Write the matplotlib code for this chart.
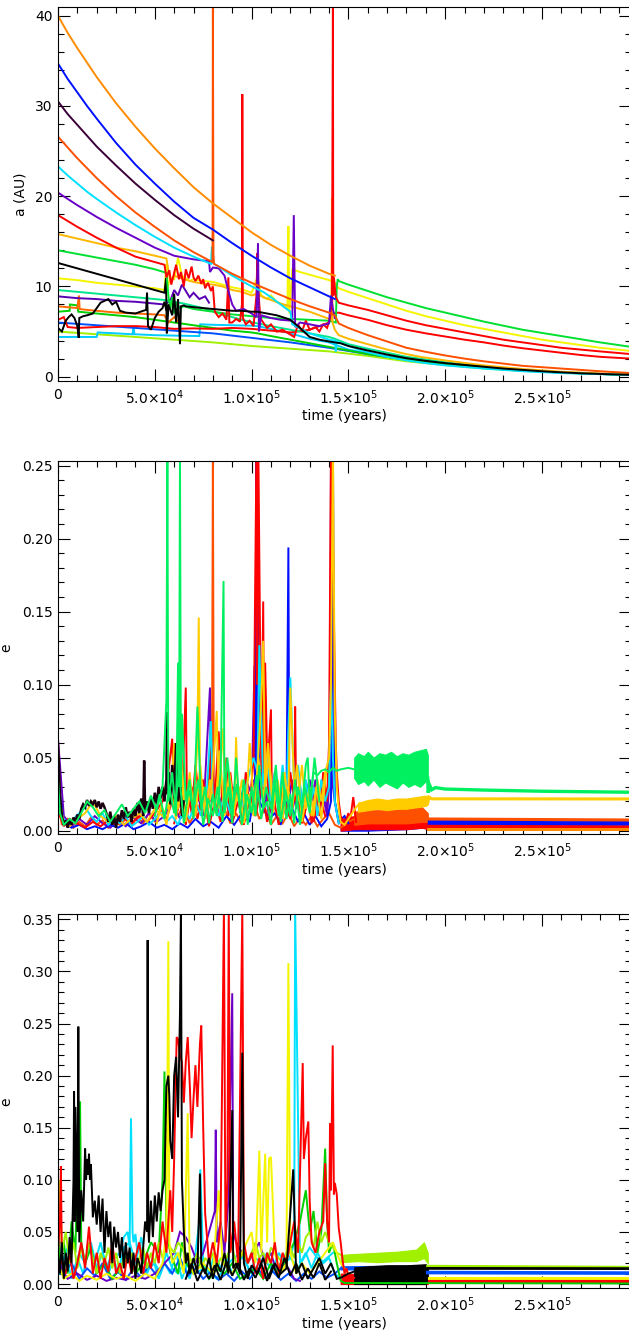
import numpy as np
import matplotlib
matplotlib.use("Agg")
import matplotlib.pyplot as plt
from matplotlib.ticker import FixedLocator, FixedFormatter, MultipleLocator, FormatStrFormatter

plt.rcParams['font.family'] = ['DejaVu Sans']
plt.rcParams['mathtext.fontset'] = 'dejavusans'

# ---------------- data (time in units of 1e4 years) ----------------
XTICKS = [0, 5e4, 1e5, 1.5e5, 2e5, 2.5e5]
XTICK_LABELS = ['0', r'$5.0{\times}10^{4}$', r'$1.0{\times}10^{5}$', r'$1.5{\times}10^{5}$',
                r'$2.0{\times}10^{5}$', r'$2.5{\times}10^{5}$']

# Panel 1: semimajor axis a (AU)
A_ORANGE = [(0,40.0),(0.5,38.1),(1,36.4),(1.5,34.8),(2,33.2),(3,30.3),(4,27.7),(5,25.3),(6,23.1),(7,21.0),(8,19.2),(9,17.6),
            (10,16.0),(11,14.6),(12,13.4),(13,12.3),(14,11.4),(14.3,11.2)]
A_BLUE = [(0,34.7),(0.5,33.0),(1,31.5),(1.5,30.0),(2,28.6),(3,25.9),(4,23.5),(5,21.4),(6,19.4),(7,17.6),(8,16.3),(9,14.8),
          (10,13.4),(11,12.1),(12,10.9),(13,9.9),(14,8.9),(14.3,8.6)]
A_DPURPLE = [(0,30.5),(0.5,29.1),(1,27.9),(1.5,26.7),(2,25.5),(3,23.4),(4,21.4),(5,19.6),(6,17.9),(7,16.4),(8.0,15.1)]
A_ORANGE2 = [(0,26.6),(0.5,25.4),(1,24.2),(1.5,23.1),(2,22.0),(3,20.0),(4,18.2),(5,16.6),(6,15.1),(7,13.8),(7.98,12.7),(8.0,41.5),
             (8.03,13.5),(8.06,12.5),(9,11.4),(10,10.4),(11,9.5),(12,8.6),(13,7.8),(14,7.1),(14.3,6.8),
             (14.5,5.9),(15,5.4),(16,4.6),(17,3.9),(18,3.2),(19,2.75),(20,2.35),(21,2.0),(22,1.7),(23,1.45),
             (24,1.2),(25,1.05),(26,0.9),(27,0.75),(28,0.6),(29.6,0.4)]
A_CYAN = [(0,23.3),(0.5,22.3),(1,21.4),(1.5,20.5),(2,19.7),(3,18.2),(4,16.8),(5,15.5),(6,14.3),(7,13.3),(7.9,12.5),(7.95,14.4),
          (8.0,12.6),(9,11.2),(10,10.0),(10.6,9.4),(11,8.8),(11.5,8.0),(12,7.2),(12.1,5.8),(13,4.8),(14,4.1),
          (14.3,4.0),(14.35,2.8),(14.4,3.9),(15,3.4),(16,2.7),(17,2.2),(18,1.8),(19,1.5),(20,1.25),(22,0.9),
          (24,0.6),(26,0.4),(28,0.28),(29.6,0.2)]
A_PURPLE = [(0,20.4),(1,19.0),(2,17.7),(3,16.5),(4,15.4),(5,14.3),(6,13.4),(7,13.0),(7.8,12.8),(7.85,11.6),
            (8.0,12.1),(8.3,12.0),(8.6,11.2),(8.8,9.5),(9.0,8.0),(9.2,7.3),(9.6,7.5),(10.0,7.0),(10.25,6.6),
            (10.33,14.8),(10.38,5.0),(10.5,6.8),(11.0,6.5),(11.5,6.3),(12.1,6.2),(12.18,17.9),(12.25,5.5),
            (12.5,6.0),(13.0,5.8),(13.5,5.6),(14.0,5.9),(14.1,9.0),(14.2,7.5),(14.3,6.5)]
A_RED = [(0,17.9),(1,16.6),(2,15.4),(3,14.3),(4,13.3),(5,12.7),(5.5,12.4),(5.6,11.0),(5.75,11.8),(5.85,10.2),
         (6.0,11.5),(6.1,12.4),(6.25,10.8),(6.35,11.6),(6.5,10.0),(6.6,11.9),(6.75,10.9),(6.9,12.2),(7.0,11.0),
         (7.1,10.6),(7.25,11.2),(7.4,10.3),(7.5,10.8),(7.6,9.8),(7.75,10.4),(7.9,9.5),(8.0,10.0),(8.1,7.2),
         (8.3,6.6),(8.5,7.0),(8.7,6.3),(8.8,11.0),(8.85,6.0),(9.0,6.0),(9.2,6.4),(9.4,6.1),(9.5,8.0),(9.52,31.3),
         (9.55,6.5),(9.7,5.8),(9.9,6.2),(10.1,5.6),(10.25,9.0),(10.3,13.7),(10.35,9.5),(10.45,6.5),(10.6,6.0),
         (10.8,5.4),(11.0,5.8),(11.3,5.0),(11.6,5.2),(11.9,4.8),(12.2,4.4),(12.4,5.8),(12.6,5.0),(12.8,6.2),
         (13.0,5.2),(13.3,5.5),(13.5,5.0),(13.7,5.8),(13.9,5.4),(14.05,6.5),(14.15,8.5),(14.2,41.5),(14.22,9.0),
         (14.25,11.0),(14.35,8.8),(14.5,8.2),(15,7.9),(16,7.4),(17,6.8),(18,6.2),(19,5.7),(20,5.3),(21,4.9),
         (22,4.5),(23,4.1),(24,3.8),(25,3.5),(26,3.2),(27,3.0),(28,2.8),(29.6,2.5)]
A_RED2 = [(0,6.3),(0.3,6.6),(0.5,5.5),(1,5.4),(2,5.5),(3,5.6),(4,5.6),(5,5.5),(5.5,5.4),(6,5.3),(7,5.35),
          (8,5.3),(9,5.4),(10,5.3),(11,5.1),(12,4.9),(13,5.2),(13.5,5.6),(14,6.0),(14.2,7.0),(14.5,7.1),
          (15,6.8),(16,6.3),(17,5.7),(18,5.2),(19,4.8),(20,4.45),(21,4.1),(22,3.8),(23,3.45),(24,3.15),
          (25,2.9),(26,2.65),(27,2.4),(28,2.2),(29.6,2.0)]
A_OYELLOW = [(0,15.8),(1,15.3),(2,14.8),(3,14.3),(4,13.9),(5,13.4),(5.6,13.1),(5.8,10.5),(6.0,11.2),(6.5,10.8),
             (7.0,10.5),(7.5,10.3),(8.0,10.2),(8.5,10.0),(9.0,9.6),(9.5,9.4),(10.0,9.0),(10.3,9.2),(10.6,8.8),
             (11.0,8.5),(11.5,8.1),(12.0,7.8),(12.5,7.5),(13.0,7.2),(13.5,6.8),(14.0,6.4),(14.12,6.3),
             (14.15,19.8),(14.18,6.0),(14.3,5.2),(14.5,4.6),(15,4.2),(16,3.6),(17,3.0),(18,2.5),(18.7,2.2),
             (20,1.8),(22,1.25),(24,0.85),(26,0.55),(28,0.35),(29.6,0.25)]
A_YELLOW = [(0,10.9),(1,10.7),(2,10.4),(3,10.2),(4,10.0),(5,9.8),(5.5,9.6),(5.6,12.5),(5.65,9.8),(5.8,11.0),
            (6.0,10.8),(6.2,13.2),(6.4,11.2),(6.6,10.9),(6.8,10.6),(7.0,10.8),(7.5,10.6),(8.0,10.5),(8.5,10.2),
            (9.0,9.9),(9.5,9.7),(10.0,9.3),(10.3,11.0),(10.5,9.0),(10.8,8.6),(11.0,9.0),(11.3,8.3),(11.6,8.0),
            (11.85,7.5),(11.9,16.7),(11.95,7.0),(12.1,11.9),(12.5,11.6),(13.0,11.3),(13.5,11.0),(14.0,10.7),
            (14.3,10.4),(14.5,9.8),(15,9.4),(16,8.7),(17,8.0),(18,7.3),(19,6.7),(20,6.2),(21,5.7),(22,5.3),
            (23,4.9),(24,4.5),(25,4.1),(26,3.8),(27,3.5),(28,3.2),(29.6,2.85)]
A_GREEN = [(0,14.0),(1,13.6),(2,13.2),(3,12.8),(4,12.4),(5,11.9),(5.6,11.5),(5.7,9.0),(5.8,7.5),(5.9,8.8),
           (6.0,7.0),(6.1,8.2),(6.3,7.6),(6.5,7.8),(7,7.5),(8,7.2),(9,6.9),(10,6.7),(11,6.5),(12,6.4),(13,6.3),
           (14,6.2),(14.35,6.0),(14.4,10.0),(14.45,10.8),(14.5,10.6),(15,10.2),(16,9.5),(17,8.8),(18,8.2),
           (19,7.6),(20,7.1),(21,6.6),(22,6.1),(23,5.65),(24,5.2),(25,4.85),(26,4.5),(27,4.15),(28,3.8),(29.6,3.3)]
A_BLACK1 = [(0,12.6),(1,12.0),(2,11.4),(3,10.8),(4,10.2),(5,9.6),(5.5,9.3),(5.58,10.9),(5.62,4.8),(5.7,7.6)]
A_BLACK2 = [(0,5.4),(0.2,5.0),(0.4,6.2),(0.55,6.6),(0.7,6.9),(0.85,6.5),(1.0,5.6),(1.07,4.3),(1.1,6.5),(1.3,6.7),
            (1.5,6.8),(1.8,7.0),(2.0,7.6),(2.2,8.2),(2.4,8.4),(2.6,8.6),(2.8,8.0),(3.0,8.3),(3.2,7.3),(3.5,7.1),
            (4.0,7.0),(4.4,7.3),(4.55,7.4),(4.6,9.3),(4.65,5.6),(4.8,5.2),(5.0,6.5),(5.2,7.2),(5.4,7.6),(5.5,8.3),
            (5.6,7.3),(5.7,8.0),(5.9,6.8),(6.0,9.2),(6.1,6.0),(6.2,8.6),(6.3,3.6),(6.35,7.8),(6.5,7.9),(6.6,7.8),
            (7,7.7),(7.5,7.6),(8,7.5),(8.5,7.4),(9,7.3),(9.5,7.3),(10,7.2),(10.3,7.2),(10.8,7.0),(11.3,6.8),
            (11.6,6.6),(12,6.3),(12.5,5.4),(13,4.4),(13.5,4.1),(14,3.9),(14.6,3.7),(15,3.4),(16,2.9),(17,2.45),
            (18,2.05),(19,1.75),(20,1.5),(21,1.3),(22,1.1),(23,0.9),(24,0.75),(25,0.6),(26,0.48),(27,0.38),
            (28,0.3),(29.6,0.2)]
A_TEAL = [(0,9.6),(2,9.2),(4,8.8),(5.5,8.5),(6.5,8.1),(7.5,7.6),(8.5,6.9),(9.5,6.3),(10.3,5.9),(11,5.6),(12,5.2),
          (13,4.8),(14,4.4),(14.3,4.2),(15,3.6),(16,3.1),(18,2.2),(20,1.6),(22,1.1),(24,0.75),(26,0.5),(28,0.3),
          (29.6,0.22)]
A_VIOLET = [(0,8.9),(1,8.7),(2,8.6),(3,8.4),(4,8.3),(5,8.1),(5.5,8.0),(5.8,8.4),(6.0,9.6),(6.2,9.0),(6.4,10.2),
            (6.6,9.5),(6.8,8.8),(7.0,9.3),(7.3,8.6),(7.6,8.9),(7.8,8.2)]
A_ORANGE3 = [(0,7.8),(0.5,7.7),(1.0,7.6),(1.08,9.0),(1.12,7.5),(1.5,7.4),(2,7.3),(3,7.1),(4,7.0),(5,6.9),
             (5.5,6.8),(5.7,6.0),(6.0,6.6),(6.3,5.9)]
A_GREEN2 = [(0,7.2),(0.6,7.3),(0.62,8.0),(1.0,7.9),(1.05,7.2),(2,7.0),(3,6.8),(4,6.6),(5,6.3),(6,6.0),(7,5.7),
            (8,5.4),(9,5.1),(10,4.9),(10.3,4.8),(11,4.5),(12,4.1),(13,3.7),(14,3.3),(15,2.9),(16,2.5),(18,1.9),
            (20,1.4),(22,1.0),(24,0.7),(26,0.45),(28,0.3),(29.6,0.2)]
A_BLUE2 = [(0,6.0),(2,5.7),(4,5.4),(6,5.1),(8,4.8),(10,4.3),(12,3.8),(14,3.2),(16,2.5),(18,1.9),(20,1.4),
           (22,1.0),(24,0.7),(26,0.45),(28,0.3),(29.6,0.2)]
A_CYAN2 = [(0,4.4),(1,4.4),(2.0,4.4),(2.05,4.9),(3,4.8),(3.85,4.7),(3.9,5.6),(3.95,4.7),(5,4.6),(6,4.55),
           (7.3,4.5),(7.35,5.8),(8,5.75),(9,5.7),(10,5.65),(10.3,5.6),(11,5.3),(12,4.8),(13,4.2),(14,3.8),
           (15,3.0),(16,2.6),(18,1.9),(20,1.35),(22,0.95),(24,0.65),(26,0.45),(28,0.3),(29.6,0.2)]
A_LGREEN = [(0,5.0),(2,4.7),(4,4.4),(6,4.1),(8,3.8),(10,3.4),(12,3.1),(14,2.8),(16,2.3),(18,1.7),(20,1.3),
            (22,0.9),(24,0.65),(26,0.45),(28,0.3),(29.6,0.2)]

# Panel 2: eccentricity (run 1)
E1_BLACK = [(0,0.058),(0.05,0.045),(0.1,0.025),(0.2,0.01),(0.3,0.004),(0.4,0.007),(0.5,0.002),(0.6,0.008),
            (0.7,0.004),(0.8,0.009),(0.9,0.006),(1.0,0.011),(1.1,0.008),(1.2,0.015),(1.3,0.018),(1.4,0.016),
            (1.5,0.021),(1.6,0.017),(1.7,0.02),(1.8,0.018),(1.9,0.021),(2.0,0.016),(2.1,0.02),(2.2,0.015),
            (2.3,0.019),(2.4,0.016),(2.5,0.012),(2.6,0.006),(2.7,0.013),(2.8,0.004),(2.9,0.01),(3.0,0.002),
            (3.1,0.011),(3.2,0.006),(3.3,0.014),(3.4,0.008),(3.5,0.016),(3.6,0.009),(3.7,0.013),(3.8,0.006),
            (3.9,0.015),(4.0,0.01),(4.1,0.019),(4.2,0.012),(4.3,0.022),(4.4,0.01),(4.45,0.048),(4.5,0.014),
            (4.6,0.02),(4.7,0.012),(4.8,0.022),(4.9,0.015),(5.0,0.026),(5.1,0.018),(5.2,0.03),(5.3,0.022),
            (5.4,0.03),(5.5,0.02),(5.6,0.035),(5.63,0.081),(5.66,0.025),(5.7,0.04),(5.8,0.018),(5.9,0.045),
            (6.0,0.022),(6.1,0.06),(6.2,0.02),(6.3,0.035),(6.4,0.01),(6.5,0.02)]
E1_ORED = [(0,0.02),(0.2,0.004),(0.5,0.008),(0.8,0.002),(1.1,0.006),(1.4,0.003),(1.7,0.009),(2.0,0.004),
           (2.3,0.007),(2.6,0.002),(2.9,0.006),(3.2,0.004),(3.5,0.008),(3.8,0.003),(4.1,0.01),(4.4,0.005),
           (4.7,0.012),(5.0,0.006),(5.3,0.015),(5.6,0.008),(5.9,0.02),(6.2,0.01),(6.5,0.018),(6.8,0.005),
           (7.1,0.012),(7.4,0.02),(7.7,0.01),(7.95,0.03),(8.0,0.26),(8.05,0.02),(8.3,0.01),(8.6,0.015),
           (8.9,0.005),(9.2,0.012),(9.5,0.004),(9.8,0.01),(10.1,0.02),(10.4,0.008),(10.7,0.015),(11.0,0.004),
           (11.3,0.01),(11.6,0.005),(11.9,0.012),(12.2,0.003),(12.5,0.009),(12.8,0.004),(13.1,0.01),
           (13.4,0.003),(13.7,0.008),(14.0,0.012),(14.3,0.004),(14.6,0.002),(15.0,0.006),(15.3,0.008)]
E1_PURPLE = [(0,0.063),(0.3,0.01),(0.7,0.003),(1.1,0.008),(1.5,0.004),(1.9,0.01),(2.3,0.005),(2.7,0.002),
             (3.1,0.007),(3.5,0.003),(3.9,0.009),(4.3,0.005),(4.7,0.012),(5.1,0.006),(5.5,0.01),(5.9,0.02),
             (6.3,0.008),(6.7,0.015),(7.1,0.03),(7.5,0.01),(7.85,0.098),(7.9,0.02),(7.95,0.035),(8.2,0.012),
             (8.5,0.025),(8.8,0.015),(9.1,0.03),(9.4,0.02),(9.7,0.035),(10.0,0.025),(10.15,0.113),(10.2,0.03),
             (10.25,0.26),(10.3,0.03),(10.4,0.02),(10.6,0.035),(10.9,0.01),(11.2,0.03),(11.5,0.02),(11.8,0.035),
             (12.1,0.015),(12.4,0.03),(12.7,0.02),(13.0,0.035),(13.3,0.015),(13.6,0.03),(13.9,0.01),(14.05,0.04),
             (14.1,0.26),(14.2,0.03),(14.3,0.02),(14.5,0.005)]
E1_PURPLE_B = [(9.5,0.01),(9.7,0.03),(9.9,0.015),(10.1,0.035),(10.3,0.02),(10.5,0.04),(10.7,0.018),(10.9,0.03),
               (11.1,0.012),(11.3,0.025),(11.5,0.01),(11.7,0.03),(11.9,0.02),(12.1,0.035),(12.3,0.015),
               (12.5,0.028),(12.7,0.01),(12.9,0.03),(13.1,0.02),(13.3,0.035),(13.5,0.012),(13.7,0.03),(13.9,0.015)]
E1_BLUE = [(0,0.035),(0.3,0.005),(0.7,0.002),(1.1,0.004),(1.5,0.001),(1.9,0.003),(2.3,0.001),(2.7,0.004),
           (3.1,0.002),(3.5,0.005),(3.9,0.001),(4.3,0.003),(4.7,0.006),(5.1,0.002),(5.5,0.004),(5.9,0.001),
           (6.3,0.005),(6.7,0.002),(7.1,0.008),(7.5,0.003),(7.9,0.006),(8.3,0.002),(8.7,0.01),(9.1,0.004),
           (9.5,0.012),(9.9,0.006),(10.2,0.03),(10.3,0.26),(10.4,0.02),(10.6,0.015),(10.9,0.008),(11.2,0.012),
           (11.5,0.004),(11.8,0.02),(11.9,0.194),(11.95,0.01),(12.1,0.015),(12.4,0.006),(12.7,0.012),
           (13.0,0.004),(13.3,0.01),(13.6,0.003),(13.9,0.008),(14.1,0.02),(14.2,0.26),(14.3,0.02),(14.5,0.006),
           (14.8,0.01),(15.0,0.005)]
E1_RED = [(0,0.03),(0.1,0.01),(0.3,0.003),(0.6,0.008),(1.0,0.005),(1.4,0.002),(1.8,0.006),(2.2,0.003),
          (2.6,0.007),(3.0,0.004),(3.4,0.008),(3.8,0.005),(4.2,0.01),(4.6,0.006),(5.0,0.012),(5.4,0.02),
          (5.7,0.04),(5.9,0.063),(6.0,0.015),(6.2,0.04),(6.4,0.02),(6.6,0.098),(6.66,0.02),(6.7,0.03),
          (6.9,0.012),(7.1,0.045),(7.3,0.02),(7.5,0.035),(7.7,0.01),(7.9,0.06),(8.1,0.02),(8.3,0.068),
          (8.5,0.015),(8.7,0.05),(8.8,0.01),(8.9,0.04),(9.1,0.015),(9.3,0.03),(9.5,0.01),(9.7,0.04),
          (9.9,0.015),(10.1,0.05),(10.25,0.26),(10.3,0.1),(10.35,0.26),(10.5,0.04),(10.6,0.157),(10.65,0.03),
          (10.7,0.115),(10.85,0.02),(10.9,0.06),(11.0,0.083),(11.05,0.02),(11.2,0.04),(11.4,0.015),
          (11.6,0.03),(11.8,0.01),(12.0,0.04),(12.2,0.02),(12.25,0.085),(12.3,0.02),(12.5,0.03),(12.7,0.01),
          (12.9,0.025),(13.1,0.005),(13.3,0.03),(13.5,0.01),(13.7,0.04),(13.9,0.02),(14.0,0.06),(14.1,0.26),
          (14.2,0.2),(14.3,0.1),(14.35,0.06),(14.4,0.04),(14.5,0.02),(14.6,0.01),(14.8,0.004),(15.0,0.012),
          (15.1,0.008),(15.25,0.023),(15.4,0.006)]
E1_RED_B = [(6.0,0.005),(6.3,0.02),(6.6,0.004),(6.9,0.03),(7.2,0.008),(7.5,0.025),(7.8,0.003),(8.1,0.02),
            (8.4,0.006),(8.7,0.03),(9.0,0.005),(9.3,0.02),(9.6,0.004),(9.9,0.025),(10.2,0.01),(10.5,0.03),
            (10.8,0.006),(11.1,0.025),(11.4,0.004),(11.7,0.02),(12.0,0.008),(12.3,0.03),(12.6,0.005),
            (12.9,0.02),(13.2,0.006),(13.5,0.025),(13.8,0.01)]
E1_CYAN = [(0,0.04),(0.2,0.01),(0.5,0.004),(0.8,0.008),(1.1,0.012),(1.4,0.016),(1.7,0.01),(2.0,0.006),
           (2.3,0.012),(2.6,0.004),(2.9,0.008),(3.2,0.005),(3.5,0.01),(3.8,0.003),(4.1,0.006),(4.4,0.01),
           (4.7,0.004),(5.0,0.008),(5.3,0.012),(5.6,0.006),(5.9,0.01),(6.2,0.004),(6.5,0.015),(6.8,0.008),
           (7.1,0.02),(7.4,0.01),(7.7,0.03),(7.9,0.075),(8.0,0.02),(8.3,0.01),(8.6,0.025),(8.9,0.012),
           (9.2,0.03),(9.5,0.015),(9.8,0.035),(10.1,0.05),(10.3,0.04),(10.4,0.127),(10.6,0.03),(10.8,0.05),
           (11.0,0.02),(11.2,0.04),(11.4,0.015),(11.6,0.045),(11.8,0.02),(11.9,0.07),(12.0,0.105),(12.2,0.03),
           (12.4,0.045),(12.6,0.02),(12.8,0.035),(13.0,0.015),(13.2,0.03),(13.4,0.01),(13.6,0.035),
           (13.8,0.02),(14.0,0.03),(14.1,0.105),(14.2,0.05),(14.3,0.02),(14.5,0.005)]
E1_GOLD = [(0,0.06),(0.1,0.02),(0.3,0.005),(0.6,0.003),(1.0,0.008),(1.4,0.012),(1.8,0.02),(2.2,0.01),
           (2.6,0.006),(3.0,0.01),(3.4,0.004),(3.8,0.008),(4.2,0.012),(4.6,0.006),(5.0,0.015),(5.4,0.01),
           (5.8,0.02),(6.0,0.06),(6.2,0.015),(6.4,0.03),(6.6,0.01),(6.8,0.04),(7.0,0.012),(7.2,0.06),
           (7.27,0.146),(7.35,0.02),(7.5,0.03),(7.7,0.012),(7.9,0.025),(8.1,0.06),(8.2,0.082),(8.3,0.015),
           (8.5,0.07),(8.7,0.02),(8.9,0.03),(9.1,0.01),(9.2,0.064),(9.3,0.02),(9.5,0.035),(9.7,0.008),
           (9.9,0.06),(10.1,0.02),(10.3,0.04),(10.5,0.09),(10.6,0.13),(10.7,0.03),(10.9,0.05),(11.1,0.02),
           (11.3,0.03),(11.5,0.01),(11.7,0.04),(11.9,0.02),(12.0,0.098),(12.2,0.03),(12.4,0.02),(12.6,0.045),
           (12.8,0.015),(13.0,0.03),(13.2,0.01),(13.4,0.035),(13.6,0.02),(13.8,0.04),(14.0,0.05),(14.1,0.1),
           (14.2,0.27),(14.3,0.08),(14.4,0.03),(14.5,0.015),(14.6,0.006),(14.8,0.004),(15.0,0.008),
           (15.2,0.012),(15.4,0.016),(15.6,0.019)]
E1_GOLD_B = [(5.1,0.005),(5.35,0.018),(5.6,0.004),(5.85,0.025),(6.1,0.008),(6.35,0.05),(6.6,0.006),(6.85,0.03),
             (7.1,0.01),(7.35,0.045),(7.6,0.008),(7.85,0.035),(8.1,0.012),(8.35,0.055),(8.6,0.01),(8.85,0.04),
             (9.1,0.015),(9.35,0.03),(9.6,0.005),(9.85,0.025),(10.1,0.01),(10.35,0.05),(10.6,0.02),(10.85,0.06),
             (11.1,0.012),(11.35,0.035),(11.6,0.008),(11.85,0.03),(12.1,0.015),(12.35,0.045),(12.6,0.006),
             (12.85,0.025),(13.1,0.01),(13.35,0.03),(13.6,0.008),(13.85,0.04)]
E1_GREEN = [(0,0.035),(0.1,0.012),(0.3,0.004),(0.6,0.008),(0.9,0.005),(1.2,0.012),(1.5,0.02),(1.8,0.016),
            (2.1,0.01),(2.4,0.014),(2.7,0.006),(3.0,0.012),(3.3,0.018),(3.6,0.01),(3.9,0.015),(4.2,0.02),
            (4.5,0.012),(4.8,0.024),(5.1,0.014),(5.4,0.03),(5.6,0.09),(5.65,0.26),(5.7,0.02),(5.9,0.04),
            (6.1,0.01),(6.2,0.115),(6.25,0.03),(6.3,0.26),(6.35,0.03),(6.4,0.08),(6.6,0.02),(6.8,0.035),
            (7.0,0.008),(7.2,0.085),(7.4,0.015),(7.6,0.03),(7.8,0.005),(8.0,0.025),(8.2,0.01),(8.4,0.04),
            (8.55,0.171),(8.6,0.012),(8.8,0.03),(9.0,0.005),(9.2,0.05),(9.4,0.012),(9.6,0.035),(9.8,0.004),
            (10.0,0.03),(10.2,0.01),(10.4,0.045),(10.6,0.015),(10.8,0.02),(11.0,0.004),(11.2,0.035),
            (11.4,0.01),(11.6,0.04),(11.8,0.008),(12.0,0.025),(12.2,0.005),(12.4,0.03),(12.6,0.015),
            (12.8,0.045),(12.9,0.05),(13.0,0.02),(13.2,0.04),(13.4,0.038),(13.6,0.041),(13.8,0.042),
            (14.0,0.04),(14.2,0.043),(14.4,0.041),(14.6,0.042),(15.0,0.043),(15.3,0.042)]
E1_GREEN_B = [(5.0,0.01),(5.25,0.025),(5.5,0.008),(5.75,0.03),(6.0,0.012),(6.25,0.04),(6.5,0.005),(6.75,0.028),
              (7.0,0.015),(7.25,0.035),(7.5,0.004),(7.75,0.022),(8.0,0.01),(8.25,0.03),(8.5,0.006),(8.75,0.05),
              (9.0,0.015),(9.25,0.032),(9.5,0.004),(9.75,0.025),(10.0,0.012),(10.25,0.038),(10.5,0.008),
              (10.75,0.03),(11.0,0.015),(11.25,0.045),(11.5,0.006),(11.75,0.028),(12.0,0.01),(12.25,0.035),
              (12.5,0.004),(12.75,0.03),(13.0,0.012),(13.25,0.05),(13.5,0.02)]
E1_GREEN_BAND = [(15.3,0.036,0.050),(15.5,0.032,0.053),(15.8,0.034,0.051),(16.0,0.031,0.054),(16.3,0.035,0.050),
                 (16.6,0.030,0.053),(16.9,0.033,0.052),(17.2,0.031,0.054),(17.5,0.029,0.051),(17.8,0.033,0.053),
                 (18.1,0.030,0.052),(18.4,0.032,0.054),(18.7,0.030,0.055),(19.0,0.034,0.056),(19.1,0.033,0.052)]
E1_GOLD_BAND = [(15.5,0.013,0.019),(16,0.014,0.021),(16.5,0.015,0.022),(17,0.014,0.021),(17.5,0.015,0.022),
                (18,0.015,0.022),(18.5,0.016,0.023),(19.0,0.017,0.024),(19.1,0.018,0.022)]
E1_ORED_BAND = [(15.3,0.004,0.013),(16,0.005,0.014),(17,0.005,0.014),(18,0.005,0.015),(18.8,0.006,0.016),
                (19.1,0.006,0.012)]
E1_RED_BAND = [(14.6,0.0,0.008),(15.3,0.001,0.01),(16,0.001,0.009),(17,0.001,0.009),(18,0.001,0.01),
               (18.8,0.002,0.012),(19.1,0.001,0.008)]
E1_BLUE_BAND = [(14.6,0.0,0.004),(16,0.0,0.004),(18,0.001,0.006),(18.8,0.002,0.013),(19.1,0.002,0.008)]
E1_GREEN_LATE = [(19.1,0.036),(19.12,0.026),(19.2,0.031),(19.3,0.028),(19.5,0.0295),(20,0.0285),(22,0.0278),
                 (25,0.027),(29.6,0.0263)]
E1_GOLD_LATE = [(19.1,0.019),(19.15,0.023),(19.3,0.0218),(29.6,0.0217)]
E1_ORED_LATE = [(19.1,0.008),(29.6,0.0073)]
E1_BLUE_LATE = [(19.1,0.004,0.0075),(29.6,0.004,0.0065)]
E1_RED_LATE = [(19.1,0.0005,0.004),(29.6,0.0005,0.0035)]
E1_ORANGE_LATE = [(19.1,0.001),(29.6,0.001)]

# Panel 3: eccentricity (run 2)
E2_BLACK = [(0,0.03),(0.1,0.01),(0.2,0.04),(0.3,0.005),(0.4,0.03),(0.5,0.012),(0.6,0.045),(0.7,0.02),(0.8,0.1),
            (0.83,0.185),(0.86,0.06),(0.9,0.17),(1.0,0.05),(1.05,0.247),(1.1,0.04),(1.2,0.09),(1.3,0.06),
            (1.4,0.13),(1.45,0.1),(1.5,0.12),(1.55,0.105),(1.6,0.125),(1.65,0.1),(1.7,0.115),(1.75,0.09),
            (1.8,0.064),(1.9,0.08),(2.0,0.057),(2.1,0.085),(2.2,0.05),(2.3,0.082),(2.4,0.03),(2.5,0.07),
            (2.6,0.045),(2.7,0.06),(2.8,0.02),(2.9,0.055),(3.0,0.035),(3.1,0.05),(3.2,0.025),(3.3,0.045),
            (3.4,0.015),(3.5,0.04),(3.6,0.02),(3.7,0.035),(3.8,0.01),(3.9,0.03),(4.0,0.005),(4.1,0.025),
            (4.2,0.02),(4.3,0.01),(4.4,0.035),(4.5,0.06),(4.6,0.05),(4.63,0.33),(4.66,0.055),(4.7,0.04),
            (4.8,0.08),(4.9,0.045),(5.0,0.085),(5.1,0.06),(5.2,0.088),(5.3,0.07),(5.4,0.09),(5.5,0.1),
            (5.6,0.19),(5.7,0.2),(5.75,0.18),(5.8,0.137),(5.9,0.12),(6.0,0.2),(6.1,0.218),(6.2,0.16),(6.3,0.26),
            (6.35,0.36),(6.4,0.1),(6.5,0.05),(6.6,0.02),(6.7,0.03),(6.8,0.01),(7.0,0.025),(7.2,0.01),
            (7.33,0.106),(7.4,0.02),(7.6,0.01),(7.8,0.025),(8.0,0.005),(8.2,0.02),(8.4,0.012),(8.6,0.03),
            (8.8,0.01),(9.0,0.167),(9.05,0.015),(9.2,0.02),(9.4,0.01),(9.52,0.222),(9.6,0.02),(9.8,0.005),
            (10.0,0.018),(10.3,0.01),(10.6,0.025),(10.9,0.005),(11.2,0.02),(11.5,0.01),(11.8,0.015),
            (12.15,0.11),(12.3,0.01),(12.6,0.02),(12.9,0.005),(13.2,0.015),(13.5,0.025),(13.8,0.01),
            (14.1,0.02),(14.4,0.005),(14.6,0.006),(15.0,0.01),(15.3,0.012)]
E2_BLACK_B = [(6.6,0.005),(6.9,0.02),(7.2,0.003),(7.5,0.015),(7.8,0.005),(8.1,0.018),(8.4,0.004),(8.7,0.022),
              (9.0,0.008),(9.3,0.02),(9.6,0.004),(9.9,0.015),(10.2,0.006),(10.5,0.02),(10.8,0.003),(11.1,0.018),
              (11.4,0.006),(11.7,0.025),(12.0,0.008),(12.3,0.02),(12.6,0.004),(12.9,0.015),(13.2,0.006),
              (13.5,0.02),(13.8,0.004),(14.1,0.012)]
E2_RED = [(0,0.03),(0.1,0.06),(0.15,0.113),(0.2,0.02),(0.4,0.01),(0.6,0.03),(0.8,0.005),(1.0,0.02),(1.2,0.04),
          (1.4,0.015),(1.6,0.055),(1.8,0.01),(2.0,0.03),(2.2,0.005),(2.4,0.025),(2.6,0.012),(2.8,0.04),
          (3.0,0.01),(3.2,0.02),(3.4,0.005),(3.6,0.03),(3.8,0.01),(4.0,0.025),(4.2,0.04),(4.4,0.01),
          (4.6,0.03),(4.8,0.015),(5.0,0.04),(5.2,0.02),(5.4,0.06),(5.6,0.03),(5.8,0.09),(5.9,0.05),(6.0,0.12),
          (6.13,0.237),(6.2,0.235),(6.3,0.22),(6.4,0.213),(6.5,0.174),(6.6,0.213),(6.7,0.237),(6.82,0.185),
          (6.9,0.14),(7.0,0.178),(7.1,0.21),(7.2,0.17),(7.33,0.23),(7.4,0.248),(7.5,0.15),(7.6,0.068),
          (7.8,0.02),(8.0,0.04),(8.2,0.02),(8.4,0.06),(8.57,0.36),(8.65,0.04),(8.75,0.1),(8.82,0.36),
          (8.9,0.03),(9.1,0.06),(9.3,0.02),(9.52,0.36),(9.6,0.04),(9.8,0.02),(10.0,0.03),(10.2,0.01),
          (10.4,0.025),(10.6,0.005),(10.8,0.03),(11.0,0.02),(11.2,0.04),(11.4,0.01),(11.6,0.03),(11.8,0.02),
          (12.0,0.04),(12.2,0.06),(12.4,0.03),(12.64,0.212),(12.7,0.12),(12.8,0.14),(12.93,0.156),(13.0,0.08),
          (13.1,0.04),(13.3,0.03),(13.5,0.05),(13.7,0.06),(13.8,0.116),(13.9,0.06),(14.0,0.04),(14.05,0.154),
          (14.1,0.09),(14.19,0.229),(14.25,0.086),(14.3,0.097),(14.4,0.086),(14.5,0.054),(14.6,0.04),
          (14.7,0.023),(14.8,0.01),(14.9,0.015),(15.0,0.008),(15.3,0.006)]
E2_YELLOW = [(0,0.02),(0.3,0.005),(0.7,0.01),(1.1,0.003),(1.5,0.008),(2.0,0.004),(2.5,0.01),(3.0,0.005),
             (3.5,0.008),(4.0,0.003),(4.5,0.01),(5.0,0.005),(5.4,0.02),(5.6,0.05),(5.7,0.329),(5.75,0.04),
             (5.9,0.02),(6.2,0.03),(6.5,0.01),(6.7,0.164),(6.8,0.02),(7.0,0.01),(7.5,0.02),(8.0,0.01),(8.3,0.09),
             (8.5,0.02),(9.0,0.01),(9.5,0.03),(10.0,0.05),(10.2,0.02),(10.4,0.128),(10.5,0.03),(10.7,0.125),
             (10.8,0.04),(10.9,0.12),(11.0,0.122),(11.2,0.03),(11.5,0.01),(11.8,0.02),(11.9,0.308),(12.0,0.03),
             (12.3,0.01),(12.6,0.02),(13.0,0.01),(13.4,0.02),(13.8,0.03),(14.2,0.04),(14.6,0.02),(15.0,0.01)]
E2_CYAN = [(0,0.05),(0.2,0.02),(0.5,0.035),(0.8,0.01),(1.1,0.03),(1.4,0.02),(1.7,0.04),(2.0,0.015),(2.3,0.03),
           (2.6,0.01),(2.9,0.025),(3.2,0.03),(3.4,0.045),(3.6,0.05),(3.7,0.035),(3.77,0.159),(3.85,0.05),
           (3.9,0.04),(4.0,0.048),(4.1,0.03),(4.2,0.04),(4.4,0.025),(4.7,0.015),(5.0,0.02),(5.3,0.01),
           (5.6,0.03),(5.9,0.015),(6.2,0.01),(6.5,0.02),(6.8,0.005),(7.1,0.03),(7.3,0.06),(7.35,0.11),
           (7.5,0.02),(7.8,0.01),(8.1,0.03),(8.4,0.015),(8.7,0.025),(9.0,0.01),(9.3,0.02),(9.6,0.03),
           (9.9,0.01),(10.2,0.025),(10.5,0.02),(10.8,0.03),(11.1,0.015),(11.4,0.03),(11.7,0.02),(12.0,0.025),
           (12.2,0.04),(12.25,0.36),(12.5,0.02),(12.8,0.03),(13.1,0.015),(13.4,0.03),(13.7,0.02),(14.0,0.025),
           (14.3,0.01),(14.6,0.005)]
E2_CYAN_B = [(0.1,0.01),(0.4,0.03),(0.7,0.005),(1.0,0.025),(1.3,0.01),(1.6,0.035),(1.9,0.02),(2.2,0.04),
             (2.5,0.015),(2.8,0.03),(3.1,0.01),(3.4,0.035),(3.7,0.04),(4.0,0.02),(4.3,0.045),(4.6,0.01),
             (4.9,0.025),(5.2,0.005),(5.5,0.02),(5.8,0.01),(6.1,0.03),(6.4,0.005),(6.7,0.02),(7.0,0.01),
             (7.6,0.015),(8.2,0.005),(8.8,0.02),(9.4,0.03),(10.0,0.01),(10.6,0.025),(11.2,0.01),(11.8,0.03),
             (12.4,0.015),(13.0,0.035),(13.6,0.02),(14.2,0.03)]
E2_PURPLE = [(0,0.02),(0.5,0.005),(1.0,0.01),(1.5,0.004),(2.0,0.008),(2.5,0.003),(3.0,0.006),(3.5,0.004),
             (4.0,0.008),(4.5,0.005),(5.0,0.01),(5.5,0.02),(6.0,0.03),(6.3,0.05),(6.6,0.045),(6.9,0.035),
             (7.2,0.02),(7.5,0.03),(7.8,0.05),(8.1,0.07),(8.15,0.148),(8.2,0.04),(8.4,0.06),(8.6,0.03),
             (8.8,0.08),(9.0,0.279),(9.05,0.05),(9.2,0.04),(9.5,0.03),(9.8,0.02),(10.1,0.03),(10.4,0.04),
             (10.7,0.02),(11.0,0.03),(11.3,0.01),(11.6,0.02),(11.9,0.015),(12.2,0.005),(12.5,0.003)]
E2_GREEN = [(0,0.05),(0.1,0.02),(0.3,0.04),(0.5,0.01),(0.7,0.06),(0.9,0.03),(1.0,0.12),(1.1,0.05),(1.14,0.175),
            (1.2,0.04),(1.4,0.02),(1.7,0.035),(2.0,0.01),(2.4,0.02),(2.8,0.005),(3.2,0.015),(3.6,0.03),
            (4.0,0.01),(4.4,0.02),(4.8,0.04),(5.2,0.03),(5.4,0.1),(5.5,0.204),(5.6,0.05),(5.8,0.03),(6.0,0.02),
            (6.2,0.01),(6.4,0.04),(6.6,0.02),(7.0,0.01),(7.4,0.02),(7.8,0.005),(8.2,0.015),(8.6,0.01),(9.0,0.02),
            (9.4,0.005),(9.8,0.01),(10.2,0.015),(10.6,0.005),(11.0,0.02),(11.4,0.01),(11.8,0.025),(12.2,0.04),
            (12.5,0.06),(12.8,0.09),(13.0,0.05),(13.2,0.07),(13.4,0.03),(13.6,0.05),(13.8,0.13),(13.9,0.06),
            (14.0,0.03),(14.2,0.04),(14.4,0.02),(14.6,0.003),(14.8,0.001),(29.6,0.0005)]
E2_LGREEN = [(0,0.04),(0.1,0.1),(0.2,0.03),(0.4,0.05),(0.6,0.02),(0.8,0.04),(1.0,0.015),(1.2,0.035),(1.4,0.02),
             (1.6,0.04),(1.8,0.025),(2.0,0.01),(2.2,0.03),(2.4,0.02),(2.6,0.035),(2.8,0.015),(3.0,0.03),
             (3.2,0.01),(3.4,0.025),(3.6,0.02),(3.8,0.03),(4.0,0.01),(4.2,0.025),(4.4,0.035),(4.6,0.015),
             (4.8,0.03),(5.0,0.02),(5.2,0.04),(5.4,0.025),(5.6,0.035),(5.8,0.035),(6.0,0.03),(6.2,0.04),
             (6.4,0.035),(6.6,0.03),(6.8,0.025),(7.0,0.02),(7.2,0.03),(7.4,0.015),(7.6,0.025),(7.8,0.02),
             (8.0,0.03),(8.2,0.015),(8.4,0.025),(8.6,0.02),(8.8,0.03),(9.0,0.035),(9.2,0.02),(9.4,0.025),
             (9.6,0.03),(9.8,0.02),(10.0,0.03),(10.2,0.04),(10.4,0.025),(10.6,0.03),(10.8,0.02),(11.0,0.035),
             (11.2,0.03),(11.4,0.025),(11.6,0.02),(11.8,0.03),(12.0,0.035),(12.2,0.025),(12.4,0.04),(12.6,0.03),
             (12.8,0.045),(13.0,0.05),(13.2,0.035),(13.4,0.06),(13.6,0.04),(13.8,0.05),(14.0,0.04),(14.2,0.035),
             (14.4,0.03),(14.6,0.028)]
E2_BLUE = [(0,0.03),(0.3,0.01),(0.7,0.02),(1.1,0.005),(1.5,0.015),(1.9,0.008),(2.3,0.02),(2.7,0.005),(3.1,0.012),
           (3.5,0.004),(3.9,0.015),(4.3,0.006),(4.7,0.018),(5.1,0.008),(5.5,0.02),(5.9,0.01),(6.3,0.025),
           (6.7,0.008),(7.1,0.015),(7.5,0.005),(7.9,0.012),(8.3,0.004),(8.7,0.01),(9.1,0.003),(9.5,0.012),
           (9.9,0.005),(10.3,0.015),(10.7,0.006),(11.1,0.012),(11.5,0.004),(11.9,0.01),(12.3,0.003),(12.7,0.01),
           (13.1,0.005),(13.5,0.012),(13.9,0.006),(14.3,0.01),(14.6,0.015)]
E2_LGREEN_BAND = [(14.6,0.021,0.028),(15.5,0.022,0.029),(16.5,0.021,0.030),(17.5,0.022,0.031),(18.5,0.022,0.033),
                  (18.9,0.025,0.040),(19.1,0.020,0.030)]
E2_BLUE_BAND = [(14.6,0.014,0.017),(19.1,0.014,0.018)]
E2_BLACK_BAND = [(15.3,0.0,0.016),(16,0.0,0.017),(17,0.0,0.018),(18,0.0,0.018),(19.0,0.0,0.019),(19.1,0.003,0.016)]
E2_RED_BAND = [(14.6,0.0,0.01),(19.1,0.0,0.008)]
E2_LGREEN_LATE = [(19.1,0.017),(29.6,0.016)]
E2_BLACK_LATE = [(19.1,0.015),(29.6,0.0148)]
E2_BLUE_LATE = [(19.1,0.011),(29.6,0.0105)]
E2_YELLOW_LATE = [(19.1,0.004,0.007),(29.6,0.004,0.007)]
E2_RED_LATE = [(19.1,0.0008,0.004),(29.6,0.0008,0.004)]

# ---------------- colours ----------------
C_ORANGE = '#ff8c00'; C_BLUE = '#0010ff'; C_DPURPLE = '#3a0038'; C_ORED = '#ff5000'; C_CYAN = '#00e0ff'
C_PURPLE = '#6a00c8'; C_RED = '#ff0000'; C_OYELLOW = '#ffb800'; C_GREEN = '#00e030'; C_BLACK = '#000000'
C_YELLOW = '#f5f500'; C_TEAL = '#00e68c'; C_VIOLET = '#5a00b4'; C_ORANGE3 = '#ff6a00'; C_GREEN2 = '#00d000'
C_BLUE2 = '#0050ff'; C_CYAN2 = '#00ccff'; C_LGREEN = '#a0f000'; C_SPRING = '#00f060'; C_GOLD = '#ffcc00'
C_DARK = '#1a000f'

SCALE = 1e4
LW = 1.4


def line(ax, pts, color, lw=LW, z=2):
    t = np.array([p[0] for p in pts]) * SCALE
    v = np.array([p[1] for p in pts])
    ax.plot(t, v, color=color, lw=lw, solid_joinstyle='miter', zorder=z)


def band(ax, pts, color, z=2):
    t = np.array([p[0] for p in pts]) * SCALE
    lo = np.array([p[1] for p in pts])
    hi = np.array([p[2] for p in pts])
    ax.fill_between(t, lo, hi, color=color, lw=0.8, edgecolor=color, zorder=z)


fig = plt.figure(figsize=(6.29, 13.30), dpi=100)
W_PX, H_PX = 629.0, 1330.0
left = 58 / W_PX
width = (630.5 - 58) / W_PX
XMAX = (630.5 - 58) / 19.36 * 1e4

ax1 = fig.add_axes([left, 1 - 381 / H_PX, width, (381 - 6.7) / H_PX])
ax2 = fig.add_axes([left, 1 - 834.3 / H_PX, width, (834.3 - 460.7) / H_PX])
ax3 = fig.add_axes([left, 1 - 1288.3 / H_PX, width, (1288.3 - 914.3) / H_PX])

# Panel 1
for pts, c in [(A_LGREEN, C_LGREEN), (A_CYAN2, C_CYAN2), (A_BLUE2, C_BLUE2), (A_GREEN2, C_GREEN2),
               (A_RED2, C_RED), (A_ORANGE3, C_ORANGE3), (A_VIOLET, C_VIOLET), (A_TEAL, C_TEAL),
               (A_YELLOW, C_YELLOW), (A_BLACK1, C_BLACK), (A_GREEN, C_GREEN), (A_OYELLOW, C_OYELLOW),
               (A_RED, C_RED), (A_PURPLE, C_PURPLE), (A_CYAN, C_CYAN), (A_ORANGE2, C_ORED),
               (A_DPURPLE, C_DPURPLE), (A_BLUE, C_BLUE), (A_ORANGE, C_ORANGE), (A_BLACK2, C_BLACK)]:
    line(ax1, pts, c)

# Panel 2
band(ax2, E1_BLUE_BAND, C_BLUE)
band(ax2, E1_RED_BAND, C_RED)
band(ax2, E1_ORED_BAND, C_ORED)
band(ax2, E1_GOLD_BAND, C_GOLD)
band(ax2, E1_GREEN_BAND, C_SPRING)
band(ax2, E1_BLUE_LATE, C_BLUE)
band(ax2, E1_RED_LATE, C_RED)
line(ax2, E1_ORANGE_LATE, C_ORANGE, lw=2.2)
line(ax2, E1_ORED_LATE, C_ORED, lw=2.2)
line(ax2, E1_GOLD_LATE, C_GOLD, lw=2.2)
line(ax2, E1_GREEN_LATE, C_SPRING, lw=2.4)
for pts, c in [(E1_ORED, C_ORED), (E1_PURPLE, C_PURPLE), (E1_PURPLE_B, C_PURPLE), (E1_BLUE, C_BLUE),
               (E1_RED, C_RED), (E1_RED_B, C_RED), (E1_CYAN, C_CYAN), (E1_GOLD, C_GOLD), (E1_GOLD_B, C_GOLD),
               (E1_BLACK, C_DARK), (E1_GREEN_B, C_SPRING), (E1_GREEN, C_SPRING)]:
    line(ax2, pts, c, lw=1.8 if pts is E1_BLACK else LW)

# Panel 3
band(ax3, E2_RED_BAND, C_RED)
band(ax3, E2_LGREEN_BAND, C_LGREEN)
band(ax3, E2_BLUE_BAND, C_BLUE2)
band(ax3, E2_BLACK_BAND, C_BLACK)
band(ax3, E2_YELLOW_LATE, C_YELLOW)
band(ax3, E2_RED_LATE, C_RED)
line(ax3, E2_LGREEN_LATE, C_LGREEN, lw=2.2)
line(ax3, E2_BLACK_LATE, C_BLACK, lw=2.0)
line(ax3, E2_BLUE_LATE, C_BLUE2, lw=2.6)
for pts, c in [(E2_CYAN, C_CYAN), (E2_CYAN_B, C_CYAN), (E2_BLUE, C_BLUE2), (E2_PURPLE, C_PURPLE),
               (E2_GREEN, C_GREEN2), (E2_LGREEN, C_LGREEN), (E2_YELLOW, C_YELLOW), (E2_RED, C_RED),
               (E2_BLACK_B, C_BLACK), (E2_BLACK, C_BLACK)]:
    line(ax3, pts, c)

# ---------------- axes styling ----------------
ylims = [(-0.48, 41.0), (-0.0025, 0.2534), (-0.0041, 0.3548)]
ymaj = [10, 0.05, 0.05]
ymin = [2, 0.01, 0.01]
yfmt = ['%d', '%.2f', '%.2f']
ylabels = ['a (AU)', 'e', 'e']
ylabel_x = [(28 - 58) / 572.5, (13 - 58) / 572.5, (13 - 58) / 572.5]
for ax, yl, mj, mn, fm, lab, lx in zip([ax1, ax2, ax3], ylims, ymaj, ymin, yfmt, ylabels, ylabel_x):
    ax.set_xlim(0, XMAX)
    ax.set_ylim(*yl)
    ax.xaxis.set_major_locator(FixedLocator(XTICKS))
    ax.xaxis.set_major_formatter(FixedFormatter(XTICK_LABELS))
    ax.xaxis.set_minor_locator(MultipleLocator(1e4))
    ax.yaxis.set_major_locator(MultipleLocator(mj))
    ax.yaxis.set_minor_locator(MultipleLocator(mn))
    ax.yaxis.set_major_formatter(FormatStrFormatter(fm))
    ax.tick_params(which='both', direction='in', top=True, right=True, width=0.8, labelsize=10,
                   color='black')
    ax.tick_params(which='major', length=8.5, pad=4)
    ax.tick_params(which='minor', length=4.2)
    ax.tick_params(axis='x', which='major', pad=5)
    for s in ax.spines.values():
        s.set_linewidth(0.8)
    ax.set_xlabel('time (years)', fontsize=10, labelpad=2)
    ax.set_ylabel(lab, fontsize=10)
    ax.yaxis.set_label_coords(lx, 0.5)

fig.savefig('out.png', dpi=100)
